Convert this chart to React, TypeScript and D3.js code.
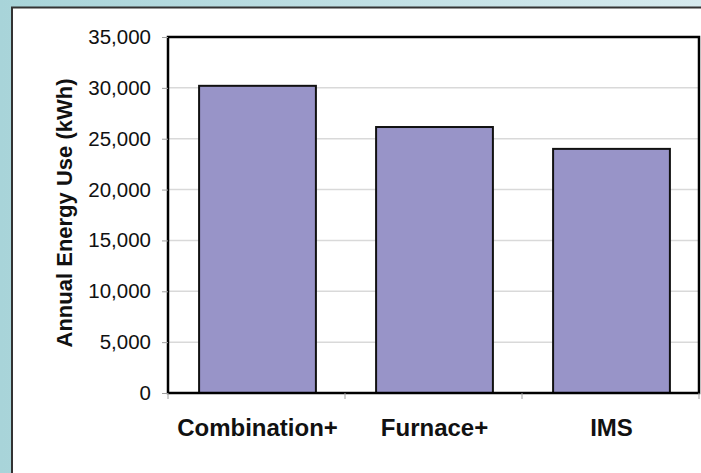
import { useEffect, useRef } from "react";
import * as d3 from "d3";

const categories = ["Combination+", "Furnace+", "IMS"];
const energyUse = [30200, 26150, 24000];
const yTicks = [0, 5000, 10000, 15000, 20000, 25000, 30000, 35000];
const yTitle = "Annual Energy Use (kWh)";

export default function App() {
  const svgRef = useRef<SVGSVGElement>(null);

  useEffect(() => {
    const width = 701;
    const height = 473;
    const plot = { left: 168, right: 699, top: 37, bottom: 393 };

    const svg = d3.select(svgRef.current);
    svg.selectAll("*").remove();
    svg.attr("width", width).attr("height", height);

    // background + white panel
    const defs = svg.append("defs");
    const grad = defs
      .append("linearGradient")
      .attr("id", "bg")
      .attr("x1", 0)
      .attr("y1", 0)
      .attr("x2", 1)
      .attr("y2", 0);
    grad.append("stop").attr("offset", "0%").attr("stop-color", "#a8d4d9");
    grad.append("stop").attr("offset", "100%").attr("stop-color", "#d6eaee");

    svg.append("rect").attr("width", width).attr("height", height).attr("fill", "url(#bg)");
    svg
      .append("rect")
      .attr("x", 12)
      .attr("y", 7.5)
      .attr("width", width + 20)
      .attr("height", height + 20)
      .attr("fill", "#ffffff")
      .attr("stroke", "#333333")
      .attr("stroke-width", 2);

    const x = d3
      .scaleBand()
      .domain(categories)
      .range([plot.left + 1, plot.right + 1])
      .paddingInner(0.34)
      .paddingOuter(0.17);

    const y = d3.scaleLinear().domain([0, 35000]).range([plot.bottom, plot.top]);

    // gridlines
    svg
      .append("g")
      .selectAll("line")
      .data(yTicks.filter((d) => d > 0))
      .join("line")
      .attr("x1", plot.left)
      .attr("x2", plot.right)
      .attr("y1", (d) => y(d))
      .attr("y2", (d) => y(d))
      .attr("stroke", "#d9d9d9")
      .attr("stroke-width", 1.5);

    // bars
    svg
      .append("g")
      .selectAll("rect")
      .data(energyUse)
      .join("rect")
      .attr("x", (d, i) => x(categories[i])!)
      .attr("y", (d) => y(d))
      .attr("width", x.bandwidth())
      .attr("height", (d) => y(0) - y(d))
      .attr("fill", "#9894c8")
      .attr("stroke", "#111111")
      .attr("stroke-width", 2);

    // plot frame
    svg
      .append("rect")
      .attr("x", plot.left)
      .attr("y", plot.top)
      .attr("width", plot.right - plot.left)
      .attr("height", plot.bottom - plot.top)
      .attr("fill", "none")
      .attr("stroke", "#000000")
      .attr("stroke-width", 2.5);

    // y axis
    const yAxis = svg
      .append("g")
      .attr("transform", `translate(${plot.left},0)`)
      .call(
        d3
          .axisLeft(y)
          .tickValues(yTicks)
          .tickSize(6)
          .tickPadding(11)
          .tickFormat(d3.format(","))
      );
    yAxis.select(".domain").remove();
    yAxis.selectAll(".tick line").attr("stroke", "#a0a0a0");
    yAxis
      .selectAll(".tick text")
      .attr("font-family", "Liberation Sans, Arial, sans-serif")
      .attr("font-size", 20.5)
      .attr("fill", "#111111");

    // x axis
    const xAxis = svg
      .append("g")
      .attr("transform", `translate(0,${plot.bottom})`)
      .call(d3.axisBottom(x).tickSize(0).tickPadding(26));
    xAxis.select(".domain").remove();
    xAxis
      .selectAll(".tick text")
      .attr("font-family", "Liberation Sans, Arial, sans-serif")
      .attr("font-size", 24)
      .attr("font-weight", "bold")
      .attr("fill", "#111111");

    // tick marks between categories
    const step = x.step();
    svg
      .append("g")
      .selectAll("line")
      .data(d3.range(categories.length + 1))
      .join("line")
      .attr("x1", (i) => plot.left + i * step)
      .attr("x2", (i) => plot.left + i * step)
      .attr("y1", plot.bottom)
      .attr("y2", plot.bottom + 6)
      .attr("stroke", "#a0a0a0");

    // y title
    svg
      .append("text")
      .attr("transform", `translate(72,${(81 + 345) / 2}) rotate(-90)`)
      .attr("text-anchor", "middle")
      .attr("font-family", "Liberation Sans, Arial, sans-serif")
      .attr("font-size", 22)
      .attr("font-weight", "bold")
      .attr("fill", "#111111")
      .text(yTitle);
  }, []);

  return (
    <svg
      ref={svgRef}
      style={{ position: "absolute", left: 0, top: 0, display: "block" }}
    ></svg>
  );
}
